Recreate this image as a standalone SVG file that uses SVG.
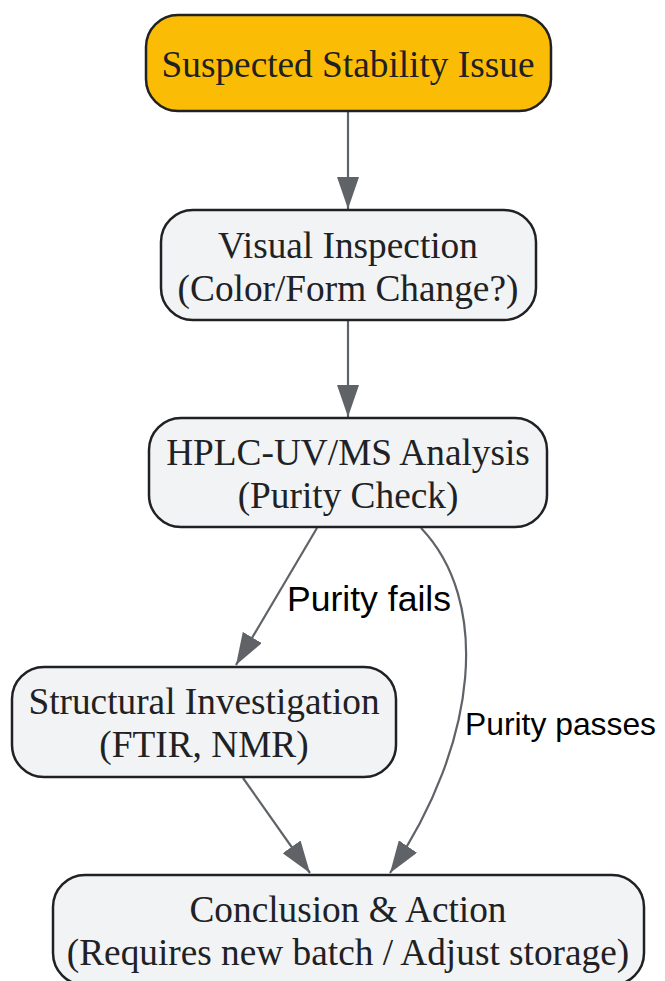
<svg xmlns="http://www.w3.org/2000/svg" width="665" height="981" viewBox="0 0 665 981">
<defs>
<style>
.node rect{fill:#f1f3f4;stroke:#202124;stroke-width:2.5}
#n1 rect{fill:#fbbc05}
.node text{font-family:"Liberation Serif","Times New Roman",serif;font-size:37.3px;fill:#202124;text-anchor:middle}
.edge{fill:none;stroke:#5f6368;stroke-width:2.2}
.lbl{font-family:"Liberation Sans",Arial,sans-serif;font-size:35px;fill:#000}
</style>
<marker id="ah" viewBox="0 0 32 22" refX="32" refY="11" markerWidth="32" markerHeight="22" markerUnits="userSpaceOnUse" orient="auto">
<path d="M0,0 L32,11 L0,22 Z" fill="#5f6368"/>
</marker>
</defs>
<g id="connectors">
<path class="edge" d="M348,112 L348,209" marker-end="url(#ah)"/>
<path class="edge" d="M348,321 L348,417" marker-end="url(#ah)"/>
<path class="edge" d="M317,528 L236,665" marker-end="url(#ah)"/>
<path class="edge" d="M421,528 C490,600 480,740 390,873" marker-end="url(#ah)"/>
<path class="edge" d="M243,778 L310,873" marker-end="url(#ah)"/>
<text class="lbl" x="287" y="611" textLength="164" lengthAdjust="spacingAndGlyphs">Purity fails</text>
<text class="lbl" x="465" y="735" style="font-size:32px" textLength="191" lengthAdjust="spacingAndGlyphs">Purity passes</text>
</g>
<g id="n1" class="node">
<rect x="146" y="15" width="405" height="96" rx="32"/>
<text x="348" y="77">Suspected Stability Issue</text>
</g>
<g id="n2" class="node">
<rect x="161" y="210" width="375" height="110" rx="32"/>
<text x="348" y="258">Visual Inspection</text>
<text x="348" y="301">(Color/Form Change?)</text>
</g>
<g id="n3" class="node">
<rect x="149" y="418" width="398" height="109" rx="32"/>
<text x="348" y="465">HPLC-UV/MS Analysis</text>
<text x="348" y="508">(Purity Check)</text>
</g>
<g id="n4" class="node">
<rect x="12" y="667" width="384" height="110" rx="32"/>
<text x="204" y="714">Structural Investigation</text>
<text x="204" y="757">(FTIR, NMR)</text>
</g>
<g id="n5" class="node">
<rect x="53" y="875" width="591" height="110" rx="32"/>
<text x="348" y="922">Conclusion &amp; Action</text>
<text x="348" y="965">(Requires new batch / Adjust storage)</text>
</g>
</svg>
